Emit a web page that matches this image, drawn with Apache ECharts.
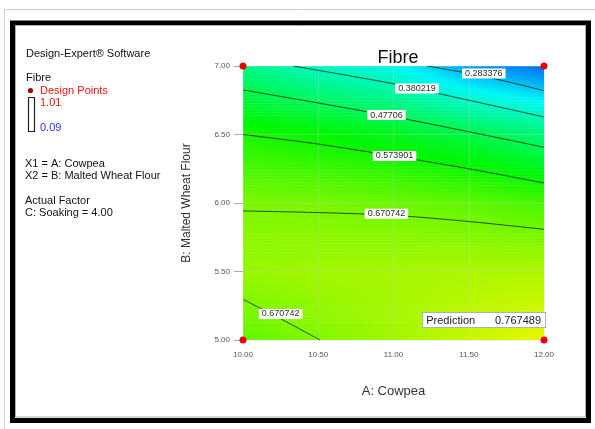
<!DOCTYPE html>
<html>
<head>
<meta charset="utf-8">
<script src="https://cdn.jsdelivr.net/npm/echarts@6/dist/echarts.min.js"></script>
<style>
  html, body { margin: 0; padding: 0; background: #ffffff; }
  #chart { width: 595px; height: 429px; }
</style>
</head>
<body>
<div id="chart"></div>
<script>
// Factor levels (grid nodes of the response surface)
const cowpeaLevels = [10, 10.5, 11, 11.5, 12];
const wheatLevels = [5, 5.5, 6, 6.5, 7];

// Predicted fibre at each node, one array per Malted Wheat Flour level
const fibreAtWheat500 = [0.640, 0.671, 0.700, 0.735, 0.767489];
const fibreAtWheat550 = [0.690, 0.700, 0.705, 0.710, 0.712];
const fibreAtWheat600 = [0.665, 0.660, 0.652, 0.637, 0.616];
const fibreAtWheat650 = [0.574, 0.551, 0.521, 0.484, 0.436];
const fibreAtWheat700 = [0.425, 0.367, 0.327, 0.237, 0.190];
const fibreRows = [fibreAtWheat500, fibreAtWheat550, fibreAtWheat600, fibreAtWheat650, fibreAtWheat700];

// Response range shown in the legend bar
const fibreMin = 0.09;
const fibreMax = 1.01;

// Design points (corners of the design space)
const designPoints = [[10, 7], [12, 7], [10, 5], [12, 5]];

// Contour levels and their traced paths (Cowpea, Malted Wheat Flour)
const contourLevels = [0.283376, 0.380219, 0.47706, 0.573901, 0.670742, 0.670742];
const contour0283 = [[11.223, 7.0], [11.6, 6.925], [12.0, 6.82]];
const contour0380 = [[10.334, 7.0], [10.7, 6.93], [11.0, 6.87], [11.5, 6.75], [12.0, 6.628]];
const contour0477 = [[10.0, 6.825], [10.5, 6.73], [11.0, 6.63], [11.5, 6.52], [12.0, 6.407]];
const contour0574 = [[10.0, 6.50], [10.5, 6.43], [11.0, 6.343], [11.5, 6.25], [12.0, 6.146]];
const contour0671a = [[10.0, 5.942], [10.5, 5.93], [11.0, 5.91], [11.5, 5.865], [12.0, 5.808]];
const contour0671b = [[10.0, 5.297], [10.25, 5.155], [10.512, 5.0]];
const contourPaths = [contour0283, contour0380, contour0477, contour0574, contour0671a, contour0671b];
const contourLabelAt = [[11.60, 6.945], [11.156, 6.836], [10.953, 6.642], [11.007, 6.343], [10.953, 5.922], [10.25, 5.19]];

// Flagged prediction point
const predictionAt = [12, 5];
const predictionValue = fibreAtWheat500[4];

const FONT = '"Liberation Sans", Arial, sans-serif';

// Blue -> cyan -> green -> yellow -> red colour ramp
const rampStops = [[0, [0, 0, 255]], [0.25, [0, 255, 255]], [0.5, [0, 255, 0]], [0.75, [255, 255, 0]], [1, [255, 0, 0]]];
function fibreColor(v) {
  let t = (v - fibreMin) / (fibreMax - fibreMin);
  t = Math.max(0, Math.min(1, t));
  for (let i = 1; i < rampStops.length; i++) {
    if (t <= rampStops[i][0]) {
      const a = rampStops[i - 1], b = rampStops[i];
      const f = (t - a[0]) / (b[0] - a[0]);
      const c = a[1].map((x, k) => Math.round((x + (b[1][k] - x) * f) * 0.97));
      return 'rgb(' + c.join(',') + ')';
    }
  }
  return 'rgb(247,0,0)';
}

// One item per surface cell: corner coordinates and corner responses
const surfaceCells = [];
for (let r = 0; r < wheatLevels.length - 1; r++) {
  for (let c = 0; c < cowpeaLevels.length - 1; c++) {
    surfaceCells.push([
      cowpeaLevels[c], wheatLevels[r], cowpeaLevels[c + 1], wheatLevels[r + 1],
      fibreRows[r][c], fibreRows[r][c + 1], fibreRows[r + 1][c], fibreRows[r + 1][c + 1]
    ]);
  }
}

function renderCell(params, api) {
  const x0 = api.value(0), y0 = api.value(1), x1 = api.value(2), y1 = api.value(3);
  const vBL = api.value(4), vBR = api.value(5), vTL = api.value(6), vTR = api.value(7);
  const pTL = api.coord([x0, y1]);
  const pBR = api.coord([x1, y0]);
  const w = pBR[0] - pTL[0];
  const h = pBR[1] - pTL[1];
  const strips = Math.ceil(h / 1.5);
  const lastCol = x1 >= cowpeaLevels[cowpeaLevels.length - 1];
  const lastRow = y0 <= wheatLevels[0];
  const children = [];
  for (let k = 0; k < strips; k++) {
    const t = (k + 0.5) / strips;
    const vl = vTL + (vBL - vTL) * t;
    const vr = vTR + (vBR - vTR) * t;
    const stops = [];
    for (let s = 0; s <= 6; s++) {
      const f = s / 6;
      stops.push({ offset: f, color: fibreColor(vl + (vr - vl) * f) });
    }
    const extraH = (lastRow && k === strips - 1) ? 0 : 0.6;
    children.push({
      type: 'rect',
      shape: { x: pTL[0], y: pTL[1] + k * h / strips, width: w + (lastCol ? 0 : 0.6), height: h / strips + extraH },
      style: { fill: new echarts.graphic.LinearGradient(0, 0, 1, 0, stops) },
      silent: true
    });
  }
  return { type: 'group', children: children };
}

const contourSeries = contourPaths.map((path, i) => ({
  type: 'line',
  name: 'contour ' + contourLevels[i],
  data: path,
  showSymbol: false,
  symbol: 'none',
  smooth: 0.3,
  z: 5,
  lineStyle: { color: 'rgba(20,50,20,0.85)', width: 1 },
  silent: true
}));

const contourLabels = {
  type: 'scatter',
  symbolSize: 0,
  z: 6,
  itemStyle: { opacity: 1 },
  data: contourLabelAt.map((p, i) => [p[0], p[1], contourLevels[i]]),
  label: {
    show: true,
    position: 'inside',
    formatter: p => String(p.value[2]),
    fontFamily: FONT,
    fontSize: 9,
    color: '#2b2b2b',
    backgroundColor: '#ffffff',
    padding: [1, 3, 0, 3],
    lineHeight: 9
  },
  silent: true
};

const designSeries = {
  type: 'scatter',
  data: designPoints,
  symbolSize: 7,
  itemStyle: { color: '#ee0000', opacity: 1 },
  clip: false,
  z: 8,
  silent: true
};

const predictionSeries = {
  type: 'scatter',
  data: [[predictionAt[0], predictionAt[1], predictionValue]],
  symbolSize: 0,
  z: 9,
  itemStyle: { opacity: 1 },
  label: {
    show: true,
    position: 'left',
    distance: 0,
    offset: [1, -20],
    formatter: p => '{a|Prediction}{b|' + p.value[2] + '}',
    backgroundColor: '#ffffff',
    borderColor: '#a8b0c0',
    borderWidth: 1,
    padding: [2, 4, 1, 3],
    rich: {
      a: { fontFamily: FONT, fontSize: 11, color: '#222', padding: [0, 20, 0, 0] },
      b: { fontFamily: FONT, fontSize: 11, color: '#222' }
    }
  },
  silent: true
};

const chart = echarts.init(document.getElementById('chart'), null, { renderer: 'canvas' });

const legendText = (x, y, text, color, size) => ({
  type: 'text', x: x, y: y,
  style: { text: text, fill: color || '#111', font: (size || 11) + 'px ' + FONT, textVerticalAlign: 'middle' }
});

chart.setOption({
  animation: false,
  backgroundColor: '#ffffff',
  title: {
    text: 'Fibre',
    left: 393, top: 44, textAlign: 'center',
    textStyle: { fontFamily: FONT, fontSize: 18, fontWeight: 'normal', color: '#111' }
  },
  grid: { left: 243, right: 51, top: 66, bottom: 89 },
  xAxis: {
    type: 'value', min: 10, max: 12, interval: 0.5, z: 4,
    name: 'A: Cowpea', nameLocation: 'middle', nameGap: 45,
    nameTextStyle: { fontFamily: FONT, fontSize: 13, color: '#333' },
    axisLine: { show: false },
    axisTick: { show: false },
    axisLabel: { margin: 11, fontFamily: FONT, fontSize: 8, color: '#555', formatter: v => v.toFixed(2) },
    splitLine: { show: true, lineStyle: { color: 'rgba(200,210,200,0.3)', width: 1 } }
  },
  yAxis: {
    type: 'value', min: 5, max: 7, interval: 0.5, z: 4,
    name: 'B: Malted Wheat Flour', nameLocation: 'middle', nameGap: 50,
    nameTextStyle: { fontFamily: FONT, fontSize: 12, color: '#333' },
    axisLine: { show: false },
    axisTick: { show: true, length: 9, lineStyle: { color: '#aaa' } },
    axisLabel: { margin: 13, fontFamily: FONT, fontSize: 8, color: '#555', formatter: v => v.toFixed(2) },
    splitLine: { show: true, lineStyle: { color: 'rgba(200,210,200,0.3)', width: 1 } }
  },
  graphic: [
    { type: 'line', shape: { x1: 4, y1: 9.5, x2: 595, y2: 9.5 }, style: { stroke: '#cfcfcf', lineWidth: 1 } },
    { type: 'line', shape: { x1: 4.5, y1: 9.5, x2: 4.5, y2: 429 }, style: { stroke: '#cfcfcf', lineWidth: 1 } },
    { type: 'rect', shape: { x: 12.5, y: 23, width: 576, height: 397.5 }, style: { fill: 'none', stroke: '#000', lineWidth: 5 } },
    { type: 'rect', shape: { x: 15.5, y: 25.5, width: 570, height: 391.5 }, style: { fill: 'none', stroke: '#b0b0b0', lineWidth: 1 } },
    legendText(26, 54, 'Design-Expert\u00ae Software'),
    legendText(26, 78, 'Fibre'),
    { type: 'circle', shape: { cx: 30.5, cy: 90.5, r: 2.6 }, style: { fill: '#a00000' } },
    legendText(40, 91, 'Design Points', '#ee1111'),
    { type: 'rect', shape: { x: 28.5, y: 97.5, width: 6, height: 34 }, style: { fill: '#fff', stroke: '#222', lineWidth: 1.2 } },
    legendText(40, 103, fibreMax.toFixed(2), '#ee1111'),
    legendText(40, 127.5, fibreMin.toFixed(2), '#2233ff'),
    legendText(25, 164, 'X1 = A: Cowpea'),
    legendText(25, 176, 'X2 = B: Malted Wheat Flour'),
    legendText(25, 200.5, 'Actual Factor'),
    legendText(25, 212.5, 'C: Soaking = 4.00')
  ],
  series: [
    {
      type: 'custom',
      data: surfaceCells,
      renderItem: renderCell,
      encode: { x: [0, 2], y: [1, 3] },
      z: 1,
      silent: true
    },
    ...contourSeries,
    contourLabels,
    designSeries,
    predictionSeries
  ]
});
</script>
</body>
</html>
